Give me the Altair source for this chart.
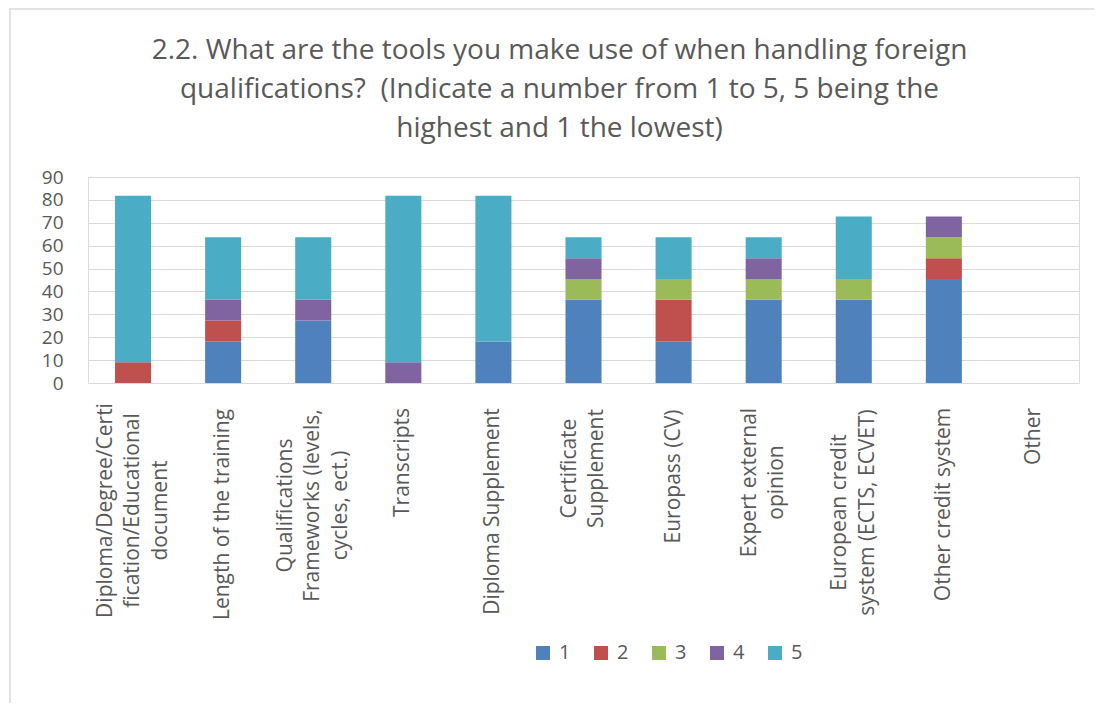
import altair as alt
import pandas as pd

categories = [
    "Diploma/Degree/Certi|fication/Educational|document",
    "Length of the training",
    "Qualifications|Frameworks (levels,|cycles, ect.)",
    "Transcripts",
    "Diploma Supplement",
    "Certificate|Supplement",
    "Europass (CV)",
    "Expert external|opinion",
    "European credit|system (ECTS, ECVET)",
    "Other credit system",
    "Other",
]
ratings = ["1", "2", "3", "4", "5"]
r1 = [0, 18.18, 27.27, 0, 18.18, 36.36, 18.18, 36.36, 36.36, 45.45, 0]
r2 = [9.09, 9.09, 0, 0, 0, 0, 18.18, 0, 0, 9.09, 0]
r3 = [0, 0, 0, 0, 0, 9.09, 9.09, 9.09, 9.09, 9.09, 0]
r4 = [0, 9.09, 9.09, 9.09, 0, 9.09, 0, 9.09, 0, 9.09, 0]
r5 = [72.73, 27.27, 27.27, 72.73, 63.64, 9.09, 18.18, 9.09, 27.27, 0, 0]
colors = ["#4F81BD", "#C0504D", "#9BBB59", "#8064A2", "#4BACC6"]

series = [r1, r2, r3, r4, r5]
rows = []
for ri, vals in zip(ratings, series):
    for c, v in zip(categories, vals):
        if v > 0:
            rows.append({"cat": c, "rating": ri, "order": int(ri), "value": v})
df = pd.DataFrame(rows)

LINE_H = 27.5

# per-label padding (style): centre of each rotated label block below the axis
label_pad = {
    categories[0]: 127, categories[1]: 131, categories[2]: 122,
    categories[3]: 79, categories[4]: 128, categories[5]: 85,
    categories[6]: 93, categories[7]: 99, categories[8]: 129,
    categories[9]: 121, categories[10]: 53,
}
pad_cond = {
    "condition": [
        {"test": f"datum.value === '{k}'", "value": v} for k, v in label_pad.items()
    ],
    "value": 60,
}
# centre multi-line label blocks on their tick
off_cond = {
    "condition": [
        {"test": f"datum.value === '{c}'", "value": -(c.count('|')) * LINE_H / 2}
        for c in categories if c.count('|') > 0
    ],
    "value": 0,
}

FONT = "Open Sans"
TXT = "#595959"
GRID = "#D9D9D9"

bars = alt.Chart(df).mark_bar().encode(
    x=alt.X(
        "cat:N",
        sort=categories,
        scale=alt.Scale(domain=categories, paddingInner=0.6, paddingOuter=0.3),
        title=None,
        axis=alt.Axis(
            labelExpr="split(datum.label, '|')",
            labelAngle=270,
            labelAlign="center",
            labelBaseline="middle",
            labelPadding=pad_cond,
            labelOffset=off_cond,
            labelLineHeight=LINE_H,
            labelFontSize=21,
            labelFont=FONT,
            labelColor=TXT,
            labelLimit=0,
            ticks=False,
            tickSize=0,
            domainColor=GRID,
            domainWidth=1,
            grid=False,
        ),
    ),
    y=alt.Y(
        "value:Q",
        stack="zero",
        scale=alt.Scale(domain=[0, 90], nice=False),
        title=None,
        axis=alt.Axis(
            values=list(range(0, 91, 10)),
            labelFontSize=19,
            labelFont=FONT,
            labelColor=TXT,
            labelPadding=25,
            ticks=False,
            domain=False,
            gridColor=GRID,
            gridWidth=1,
        ),
    ),
    color=alt.Color(
        "rating:N",
        scale=alt.Scale(domain=ratings, range=colors),
        title=None,
        legend=alt.Legend(
            orient="none",
            legendX=445,
            legendY=466,
            direction="horizontal",
            columns=5,
            symbolType="square",
            symbolSize=196,
            symbolStrokeWidth=0,
            labelFontSize=20,
            labelFont=FONT,
            labelColor=TXT,
            labelOffset=6,
            columnPadding=20,
            padding=0,
        ),
    ),
    order=alt.Order("order:Q", sort="ascending"),
)

frame = alt.Chart(pd.DataFrame({"a": [0]})).mark_rect(
    fillOpacity=0, stroke=GRID, strokeWidth=1.5
).encode(
    x=alt.value(-78), x2=alt.value(1200), y=alt.value(-168), y2=alt.value(800)
)

chart = alt.layer(frame, bars).properties(
    width=991,
    height=206,
    autosize=alt.AutoSizeParams(type="none"),
    padding={"left": 80, "top": 169, "right": 15, "bottom": 320},
    title=alt.TitleParams(
        text=[
            "2.2. What are the tools you make use of when handling foreign",
            "qualifications?\u00a0 (Indicate a number from 1 to 5, 5 being the",
            "highest and 1 the lowest)",
        ],
        font=FONT,
        fontSize=28,
        fontWeight="normal",
        color=TXT,
        lineHeight=39,
        offset=-135,
        dx=-24,
        anchor="middle",
    ),
).configure_view(stroke="transparent", strokeOpacity=0, strokeWidth=0).configure(
    background="white"
)

chart.save("out.html", embed_options={"renderer": "svg", "actions": False})
